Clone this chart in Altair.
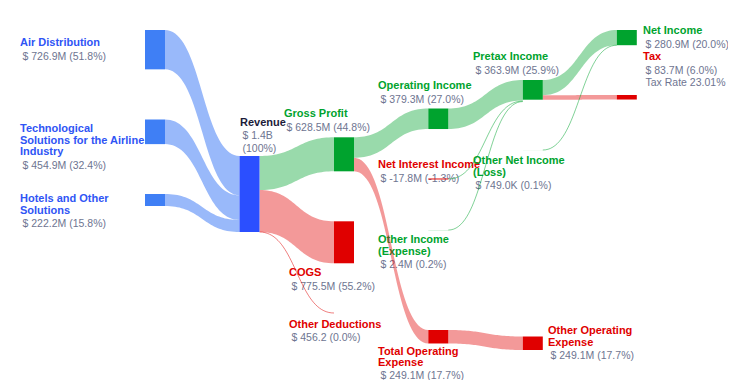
import altair as alt
import pandas as pd
import numpy as np

# ---------------- data ----------------
node_names = [
    "Air Distribution", "Technological Solutions for the Airline Industry",
    "Hotels and Other Solutions", "Revenue", "Gross Profit", "COGS",
    "Other Deductions", "Operating Income", "Net Interest Income",
    "Other Income (Expense)", "Total Operating Expense", "Pretax Income",
    "Other Net Income (Loss)", "Other Operating Expense", "Net Income", "Tax",
]
node_values = [
    726.9e6, 454.9e6, 222.2e6, 1404.0e6, 628.5e6, 775.5e6, 456.2, 379.3e6,
    -17.8e6, 2.4e6, 249.1e6, 363.9e6, 749.0e3, 249.1e6, 280.9e6, 83.7e6,
]
node_kinds = [
    "segment", "segment", "segment", "revenue", "profit", "cost", "cost",
    "profit", "cost", "profit", "cost", "profit", "profit", "cost", "profit", "cost",
]
title_lines = [
    ["Air Distribution"],
    ["Technological", "Solutions for the Airline", " Industry"],
    ["Hotels and Other", "Solutions"],
    ["Revenue"],
    ["Gross Profit"],
    ["COGS"],
    ["Other Deductions"],
    ["Operating Income"],
    ["Net Interest Income"],
    ["Other Income", "(Expense)"],
    ["Total Operating", "Expense"],
    ["Pretax Income"],
    ["Other Net Income", "(Loss)"],
    ["Other Operating", "Expense"],
    ["Net Income"],
    ["Tax"],
]
extra_notes = {"Tax": "Tax Rate 23.01%"}

link_sources = [
    "Air Distribution", "Technological Solutions for the Airline Industry",
    "Hotels and Other Solutions", "Revenue", "Revenue", "Revenue",
    "Gross Profit", "Gross Profit", "Operating Income", "Net Interest Income",
    "Other Income (Expense)", "Pretax Income", "Pretax Income",
    "Other Net Income (Loss)", "Total Operating Expense",
]
link_targets = [
    "Revenue", "Revenue", "Revenue", "Gross Profit", "COGS", "Other Deductions",
    "Operating Income", "Total Operating Expense", "Pretax Income",
    "Pretax Income", "Pretax Income", "Net Income", "Tax", "Net Income",
    "Other Operating Expense",
]
link_values = [
    726.9e6, 454.9e6, 222.2e6, 628.5e6, 775.5e6, 456.2, 379.3e6, 249.1e6,
    379.3e6, -17.8e6, 2.4e6, 280.9e6, 83.7e6, 749.0e3, 249.1e6,
]

# ---------------- layout (positions / styles) ----------------
PX_PER_DOLLAR = 76.0 / 1404.0e6
NODE_W = 20
col_x = [145, 239.5, 334, 428.3, 522.8, 616.8]
node_col = [0, 0, 0, 1, 2, 2, 2, 3, 3, 3, 3, 4, 4, 4, 5, 5]
node_top = [30, 119.5, 194, 156, 137.3, 221.3, 313, 108.5, 178.5, 230, 330,
            80, 150, 336.5, 30, 95]
# label anchor: x of title, y (centre) of first title line
label_x = [20, 20, 20, 240, 284, 289, 289, 378, 378, 378, 378, 473, 473, 548, 643, 643]
label_y = [43, 129, 199, 122.5, 114, 273, 324.5, 86, 165, 240, 351.5, 57, 161, 331, 31, 57]
TITLE_STEP = 11.5
VALUE_GAP = 13.7
VALUE_STEP = 12.6

node_color = {"segment": "#3f7ff5", "revenue": "#2b4fff", "profit": "#00a32e", "cost": "#e00000"}
title_color = {"segment": "#2f55f5", "revenue": "#1c1c3a", "profit": "#00a32e", "cost": "#e00000"}
link_color = {"revenue": "#0050f2", "profit": "#00a32e", "cost": "#e00000"}
VALUE_COLOR = "#6e7591"
FONT = "Liberation Sans"

revenue_total = node_values[node_names.index("Revenue")]


def fmt_money(v):
    a = abs(v)
    if a >= 1e9:
        return f"$ {v/1e9:.1f}B"
    if a >= 1e6:
        return f"$ {v/1e6:.1f}M"
    if a >= 1e3:
        return f"$ {v/1e3:.1f}K"
    return f"$ {v:.1f}"


idx = {n: i for i, n in enumerate(node_names)}

# nodes
node_rows = []
for i, n in enumerate(node_names):
    x0 = col_x[node_col[i]]
    h = abs(node_values[i]) * PX_PER_DOLLAR
    node_rows.append(dict(name=n, x=x0, x2=x0 + NODE_W, y=node_top[i],
                          y2=node_top[i] + h, color=node_color[node_kinds[i]]))
nodes_df = pd.DataFrame(node_rows)

# links
out_off = {n: 0.0 for n in node_names}
in_off = {n: 0.0 for n in node_names}
band_rows, thin_rows = [], []
ts = np.linspace(0, 1, 41)
for k, (s, t, v) in enumerate(zip(link_sources, link_targets, link_values)):
    si, ti = idx[s], idx[t]
    th = abs(v) * PX_PER_DOLLAR
    xa = col_x[node_col[si]] + NODE_W
    xb = col_x[node_col[ti]]
    xm = (xa + xb) / 2
    ys = node_top[si] + out_off[s]
    yt = node_top[ti] + in_off[t]
    out_off[s] += th
    in_off[t] += th
    c = link_color[node_kinds[ti]]
    for tt in ts:
        bx = (1 - tt) ** 3 * xa + 3 * (1 - tt) ** 2 * tt * xm + 3 * (1 - tt) * tt ** 2 * xm + tt ** 3 * xb
        by = ys + (yt - ys) * (3 * tt ** 2 - 2 * tt ** 3)
        row = dict(link=k, x=bx, y=by, y2=by + th, yc=by + th / 2, color=c)
        if th < 1.5:
            thin_rows.append(row)
        else:
            band_rows.append(row)
bands_df = pd.DataFrame(band_rows)
thin_df = pd.DataFrame(thin_rows)

# labels
title_rows, value_rows = [], []
for i, n in enumerate(node_names):
    y = label_y[i]
    for j, line in enumerate(title_lines[i]):
        title_rows.append(dict(x=label_x[i], y=y + j * TITLE_STEP, text=line,
                               color=title_color[node_kinds[i]]))
    gap = VALUE_GAP if n != "Total Operating Expense" else 12.6
    yv = y + (len(title_lines[i]) - 1) * TITLE_STEP + gap
    v = node_values[i]
    if n == "Revenue":
        vals = [fmt_money(v), "(100%)"]
    else:
        vals = [f"{fmt_money(v)} ({v / revenue_total * 100:.1f}%)"]
    if n in extra_notes:
        vals.append(extra_notes[n])
    for j, line in enumerate(vals):
        value_rows.append(dict(x=label_x[i] + 2.5, y=yv + j * VALUE_STEP, text=line))
titles_df = pd.DataFrame(title_rows)
values_df = pd.DataFrame(value_rows)

X = alt.Scale(domain=[8, 728], nice=False, zero=False)
Y = alt.Scale(domain=[8, 380], nice=False, zero=False, reverse=True)

titles = alt.Chart(titles_df).mark_text(
    align="left", baseline="middle", font=FONT, fontSize=11, fontWeight="bold"
).encode(
    x=alt.X("x:Q", scale=X, axis=None), y=alt.Y("y:Q", scale=Y, axis=None),
    text="text:N", color=alt.Color("color:N", scale=None),
)
values = alt.Chart(values_df).mark_text(
    align="left", baseline="middle", font=FONT, fontSize=10.5, color=VALUE_COLOR
).encode(
    x=alt.X("x:Q", scale=X, axis=None), y=alt.Y("y:Q", scale=Y, axis=None),
    text="text:N",
)
bands = alt.Chart(bands_df).mark_area(fillOpacity=0.4, interpolate="linear").encode(
    x=alt.X("x:Q", scale=X, axis=None),
    y=alt.Y("y:Q", scale=Y, axis=None), y2="y2:Q",
    detail="link:N", color=alt.Color("color:N", scale=None),
)
thin = alt.Chart(thin_df).mark_line(strokeWidth=1, opacity=0.5).encode(
    x=alt.X("x:Q", scale=X, axis=None),
    y=alt.Y("yc:Q", scale=Y, axis=None),
    detail="link:N", color=alt.Color("color:N", scale=None),
)
rects = alt.Chart(nodes_df).mark_rect().encode(
    x=alt.X("x:Q", scale=X, axis=None), x2="x2:Q",
    y=alt.Y("y:Q", scale=Y, axis=None), y2="y2:Q",
    color=alt.Color("color:N", scale=None),
)

chart = alt.layer(titles, values, bands, thin, rects).properties(
    width=720, height=372, padding=0, autosize="none"
).configure_view(stroke=None)

chart.save("out.html", embed_options={"renderer": "svg", "actions": False})
